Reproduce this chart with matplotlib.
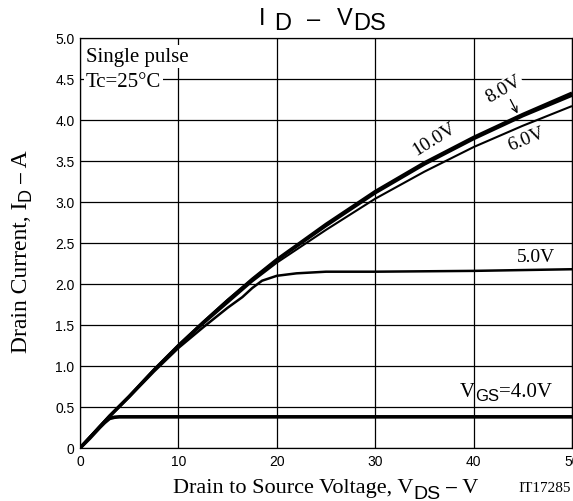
import numpy as np
import matplotlib.pyplot as plt
from matplotlib.transforms import IdentityTransform

plt.rcParams['mathtext.fontset'] = 'stix'

# curves (VDS in V, ID in A)
vds_10 = [0, 1, 2, 3, 4, 5, 7.5, 10, 12.5, 15, 17.5, 20, 25, 30, 35, 40, 45, 50]
id_10 = [0, 0.13, 0.26, 0.39, 0.51, 0.63, 0.95, 1.25, 1.53, 1.80, 2.06, 2.30, 2.73, 3.13, 3.48, 3.79, 4.07, 4.33]
vds_8 = [0, 1, 2, 3, 4, 5, 7.5, 10, 12.5, 15, 17.5, 20, 25, 30, 35, 40, 45, 50]
id_8 = [0, 0.13, 0.26, 0.39, 0.51, 0.63, 0.95, 1.25, 1.53, 1.80, 2.05, 2.29, 2.71, 3.11, 3.46, 3.77, 4.05, 4.30]
vds_6 = [0, 1, 2, 3, 4, 5, 7.5, 10, 12.5, 15, 17.5, 20, 25, 30, 35, 40, 45, 50]
id_6 = [0, 0.13, 0.26, 0.39, 0.51, 0.63, 0.94, 1.24, 1.51, 1.77, 2.03, 2.26, 2.66, 3.04, 3.37, 3.67, 3.93, 4.17]
vds_5 = [0, 1, 2, 3, 4, 5, 7.5, 10, 12.5, 15, 16.5, 17.5, 18.5, 20, 22, 25, 30, 40, 50]
id_5 = [0, 0.13, 0.26, 0.38, 0.50, 0.62, 0.93, 1.22, 1.47, 1.71, 1.84, 1.95, 2.04, 2.10, 2.13, 2.15, 2.15, 2.16, 2.18]
vds_4 = [0, 1, 2, 2.5, 3, 3.5, 4, 10, 50]
id_4 = [0, 0.12, 0.25, 0.31, 0.36, 0.375, 0.38, 0.38, 0.38]

x_ticks = [0, 10, 20, 30, 40, 50]
x_ticklabels = ['0', '10', '20', '30', '40', '50']
y_ticks = [0, 0.5, 1.0, 1.5, 2.0, 2.5, 3.0, 3.5, 4.0, 4.5, 5.0]
y_ticklabels = ['0', '0.5', '1.0', '1.5', '2.0', '2.5', '3.0', '3.5', '4.0', '4.5', '5.0']

serif = 'Liberation Serif'
sans = 'Liberation Sans'

W, H = 573, 502
fig = plt.figure(figsize=(W / 100, H / 100), dpi=100)
ax = fig.add_axes([80 / W, 1 - 449 / H, 492 / W, 410 / H])
renderer = fig.canvas.get_renderer()


def advance(s, family, size):
    # horizontal advance of a string in pixels (spaces included)
    t1 = fig.text(0, 0, 'X' + s + 'X', family=family, fontsize=size)
    t2 = fig.text(0, 0, 'XX', family=family, fontsize=size)
    w = t1.get_window_extent(renderer).width - t2.get_window_extent(renderer).width
    t1.remove()
    t2.remove()
    return w


def draw_pieces(x, y, pieces, rotation=0):
    # x, y in picture pixels from the top-left; pieces = (text, family, size, drop)
    y = H - y
    for s, family, size, drop in pieces:
        if rotation == 0:
            fig.text(x, y - drop, s, family=family, fontsize=size, ha='left', va='baseline',
                     transform=IdentityTransform())
            x += advance(s, family, size)
        else:
            fig.text(x + drop, y, s, family=family, fontsize=size, ha='left', va='baseline',
                     rotation=90, rotation_mode='anchor', transform=IdentityTransform())
            y += advance(s, family, size)


ax.plot(vds_10, id_10, color='black', linewidth=2.2, solid_capstyle='butt')
ax.plot(vds_8, id_8, color='black', linewidth=2.2, solid_capstyle='butt')
ax.plot(vds_6, id_6, color='black', linewidth=1.5, solid_capstyle='butt')
ax.plot(vds_5, id_5, color='black', linewidth=1.8, solid_capstyle='butt')
ax.plot(vds_4, id_4, color='black', linewidth=2.6, solid_capstyle='butt')

ax.set_xlim(0, 50)
ax.set_ylim(0, 5)
ax.set_xticks(x_ticks)
ax.set_xticklabels(x_ticklabels, family=sans, fontsize=10)
ax.set_yticks(y_ticks)
ax.set_yticklabels(y_ticklabels, family=sans, fontsize=10)
ax.tick_params(length=0, pad=4)
ax.grid(True, color='black', linewidth=0.9)
for s in ax.spines.values():
    s.set_linewidth(0.9)

# text boxes in the upper left
ax.text(0.6, 4.72, 'Single pulse', family=serif, fontsize=15, va='baseline',
        bbox=dict(facecolor='white', edgecolor='none', pad=1.5))
ax.text(0.6, 4.42, 'Tc=25°C', family=serif, fontsize=15, va='baseline',
        bbox=dict(facecolor='white', edgecolor='none', pad=1.5))

# curve labels
ax.text(36.0, 3.77, '10.0V', family=serif, fontsize=14, rotation=32, ha='center', va='center')
ax.text(43.1, 4.38, '8.0V', family=serif, fontsize=14, rotation=30, ha='center', va='center',
        bbox=dict(facecolor='white', edgecolor='none', pad=0.5))
ax.annotate('', xy=(44.6, 4.05), xytext=(43.6, 4.28),
            arrowprops=dict(arrowstyle='->', color='black', lw=0.9))
ax.text(45.3, 3.77, '6.0V', family=serif, fontsize=14, rotation=22, ha='center', va='center')
ax.text(46.3, 2.33, '5.0V', family=serif, fontsize=14, ha='center', va='center')
draw_pieces(460, 397, [('V', serif, 15, 0), ('GS', sans, 12, 4), ('=4.0V', serif, 15, 0)])

# axis labels, drawn in pieces so the subscripts look like the original
draw_pieces(173, 493, [('Drain to Source Voltage, V', serif, 16, 0), ('DS', sans, 14, 6),
                       (' ', serif, 16, 0), ('–', sans, 14, -1), (' V', serif, 16, 0)])
draw_pieces(27, 353, [('Drain Current, I', serif, 17, 0), ('D', sans, 13, 4),
                      (' ', serif, 17, 0), ('–', sans, 14, -1), (' A', serif, 17, 0)], rotation=90)

# title, each piece at its own spot
for s, x, y in [('I', 259, 25), ('D', 274, 30), ('–', 307, 26), ('V', 337, 25), ('DS', 353, 30)]:
    fig.text(x, H - y, s, family=sans, fontsize=17, ha='left', va='baseline',
             transform=IdentityTransform())

fig.text(571, H - 492, 'IT17285', family=serif, fontsize=11, ha='right', va='baseline',
         transform=IdentityTransform())

fig.savefig('out.png', dpi=100)
